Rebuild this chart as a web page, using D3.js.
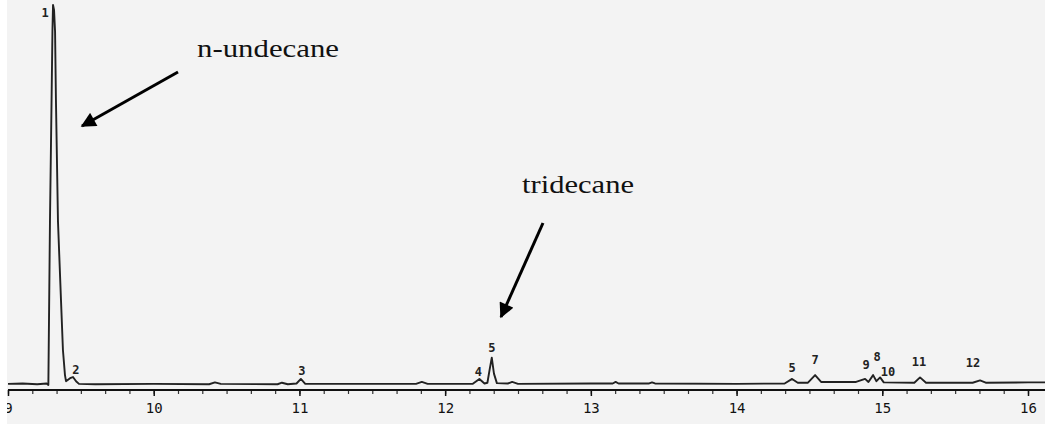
<!DOCTYPE html>
<html>
<head>
<meta charset="utf-8">
<script src="https://cdn.jsdelivr.net/npm/d3@7/dist/d3.min.js"></script>
<style>
body{margin:0;background:#fff;}
svg{display:block;}
</style>
</head>
<body>
<script>
// trace: retention time (min) / signal (rel.)
var rtMin  = [9.00, 9.10, 9.20, 9.265, 9.277, 9.288, 9.299, 9.305, 9.309, 9.316, 9.323, 9.329, 9.343, 9.364, 9.377, 9.391, 9.398, 9.426, 9.446, 9.467, 9.487,
              9.60, 10.00, 10.38, 10.42, 10.46, 10.85, 10.88, 10.92, 10.98, 11.01, 11.04, 11.50, 11.80, 11.84, 11.88,
              12.19, 12.235, 12.27, 12.29, 12.305, 12.32, 12.335, 12.355, 12.43, 12.46, 12.50, 13.00, 13.15, 13.17, 13.19, 13.40, 13.42, 13.44,
              14.00, 14.33, 14.381, 14.42, 14.49, 14.539, 14.58, 14.82, 14.882, 14.905, 14.937, 14.96, 14.985, 15.01,
              15.22, 15.259, 15.30, 15.62, 15.671, 15.71, 16.00, 16.12];
var signal = [0.3, 0.4, 0.2, 0.4, 0.0, 43, 75, 93, 100, 98.7, 93, 75, 43, 22, 9.2, 2.6, 1.0, 1.8, 2.1, 1.0, 0.3,
              0.2, 0.3, 0.2, 0.7, 0.3, 0.2, 0.6, 0.2, 0.4, 1.6, 0.3, 0.3, 0.3, 0.8, 0.3,
              0.3, 1.6, 0.4, 0.6, 4.0, 7.2, 3.0, 0.5, 0.4, 0.8, 0.3, 0.4, 0.4, 0.8, 0.4, 0.4, 0.7, 0.4,
              0.3, 0.4, 1.6, 0.6, 0.6, 2.6, 0.8, 0.8, 1.6, 0.8, 2.6, 1.0, 2.0, 0.7,
              0.6, 2.0, 0.6, 0.6, 1.2, 0.6, 0.7, 0.7];

var peakNum = ["1", "2", "3", "4", "5", "5", "7", "9", "8", "10", "11", "12"];
var peakRt  = [9.309, 9.446, 11.01, 12.235, 12.32, 14.381, 14.539, 14.882, 14.937, 14.985, 15.259, 15.671];
var peakTop = [100, 2.1, 1.6, 1.6, 7.2, 1.6, 2.6, 1.6, 2.6, 2.0, 2.0, 1.2];

var axisTicks = [9, 10, 11, 12, 13, 14, 15, 16];
var compounds = ["n-undecane", "tridecane"];

var width = 1045, height = 424;

var svg = d3.select("body").append("svg")
    .attr("width", width)
    .attr("height", height);

svg.append("rect").attr("width", width).attr("height", height).attr("fill", "#f3f3f3");

var x = d3.scaleLinear().domain([9, 16]).range([8, 1028]);
var y = d3.scaleLinear().domain([0, 100]).range([385, 5]);

// axis: major + minor (10 s) ticks
var axisY = 390;
var minor = d3.range(9, 16.13, 1 / 6);
svg.append("g")
    .attr("transform", "translate(0," + axisY + ")")
    .call(d3.axisBottom(x).tickValues(minor).tickSize(4).tickFormat(""))
    .call(function(g){ g.select(".domain").remove(); })
    .selectAll("line").attr("stroke", "#333").attr("stroke-width", 1.2);

var ax = svg.append("g")
    .attr("transform", "translate(0," + axisY + ")")
    .call(d3.axisBottom(x).tickValues(axisTicks).tickSize(6).tickPadding(7).tickFormat(d3.format("d")));
ax.select(".domain").remove();
ax.selectAll("line").attr("stroke", "#111").attr("stroke-width", 1.5);
ax.selectAll("text")
    .attr("font-family", "'DejaVu Sans Mono', monospace")
    .attr("font-size", 14)
    .attr("fill", "#111");

svg.append("line")
    .attr("x1", x(9)).attr("x2", width)
    .attr("y1", axisY).attr("y2", axisY)
    .attr("stroke", "#111").attr("stroke-width", 2);

// detector trace
var line = d3.line()
    .x(function(d, i){ return x(rtMin[i]); })
    .y(function(d){ return y(d); });

svg.append("path")
    .datum(signal)
    .attr("d", line)
    .attr("fill", "none")
    .attr("stroke", "#222")
    .attr("stroke-width", 1.9)
    .attr("stroke-linejoin", "round");

// peak numbers (offsets are just where the integrator printed them)
var labelOff = [[-8, 12], [3, -3], [1, -4], [-1, -3], [0, -6], [0, -7], [0, -11], [1, -10], [4, -14], [8, -1], [-1, -11], [-7, -13]];
svg.selectAll(".pk")
    .data(peakNum)
    .enter().append("text")
    .attr("class", "pk")
    .attr("x", function(d, i){ return x(peakRt[i]) + labelOff[i][0]; })
    .attr("y", function(d, i){ return y(peakTop[i]) + labelOff[i][1]; })
    .attr("text-anchor", "middle")
    .attr("font-family", "'DejaVu Sans Mono', monospace")
    .attr("font-size", 12)
    .attr("font-weight", "bold")
    .attr("fill", "#222")
    .text(function(d){ return d; });

// compound callouts
var defs = svg.append("defs");
defs.append("marker")
    .attr("id", "head")
    .attr("viewBox", "0 0 10 10")
    .attr("refX", 9).attr("refY", 5)
    .attr("markerWidth", 5.5).attr("markerHeight", 5)
    .attr("markerUnits", "strokeWidth")
    .attr("orient", "auto")
    .append("path").attr("d", "M0,0L10,5L0,10Z").attr("fill", "#000");

var callouts = [
    {tx: 197, ty: 57, len: 142, x1: 178, y1: 72, x2: 82, y2: 126},
    {tx: 522, ty: 193, len: 112, x1: 543, y1: 223, x2: 501, y2: 317}
];
callouts.forEach(function(c, i){
    svg.append("text")
        .attr("x", c.tx).attr("y", c.ty)
        .attr("font-family", "'Liberation Serif', 'Times New Roman', serif")
        .attr("font-size", 26)
        .attr("textLength", c.len)
        .attr("lengthAdjust", "spacingAndGlyphs")
        .attr("fill", "#111")
        .text(compounds[i]);
    svg.append("line")
        .attr("x1", c.x1).attr("y1", c.y1)
        .attr("x2", c.x2).attr("y2", c.y2)
        .attr("stroke", "#000")
        .attr("stroke-width", 3)
        .attr("marker-end", "url(#head)");
});

// scan edge
svg.append("rect").attr("x", 0).attr("y", 0).attr("width", 7).attr("height", height).attr("fill", "#fff");
</script>
</body>
</html>
